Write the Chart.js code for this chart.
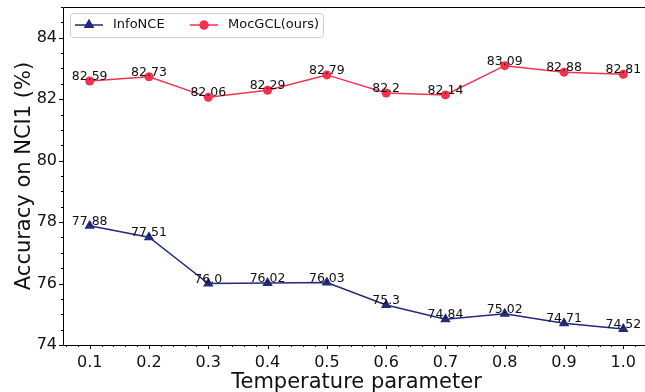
<!DOCTYPE html>
<html lang="en">
<head>
  <meta charset="UTF-8">
  <title>Accuracy vs temperature</title>
  <script src="https://cdn.jsdelivr.net/npm/chart.js"></script>
  <style>
    html, body { margin: 0; padding: 0; background: #fff; overflow: hidden; }
    canvas { display: block; }
  </style>
</head>
<body>
  <canvas id="chart" width="656" height="392"></canvas>

  <script>
    const temps = [0.1, 0.2, 0.3, 0.4, 0.5, 0.6, 0.7, 0.8, 0.9, 1.0];
    const infoNCE = [77.88, 77.51, 76.0, 76.02, 76.03, 75.3, 74.84, 75.02, 74.71, 74.52];
    const mocGCL = [82.59, 82.73, 82.06, 82.29, 82.79, 82.2, 82.14, 83.09, 82.88, 82.81];
    const infoLabels = ['77.88', '77.51', '76.0', '76.02', '76.03', '75.3', '74.84', '75.02', '74.71', '74.52'];
    const mocLabels = ['82.59', '82.73', '82.06', '82.29', '82.79', '82.2', '82.14', '83.09', '82.88', '82.81'];
    const yTicks = [74, 76, 78, 80, 82, 84];

    const BLUE = '#222a7a';
    const RED = '#f5314f';
    const FONT = "'DejaVu Sans', sans-serif";

    const near = (v, step) => Math.abs(v / step - Math.round(v / step)) < 1e-6;

    // matplotlib-ish axes: spines, major/minor ticks, value labels, legend
    const decor = {
      id: 'decor',
      afterDraw(chart) {
        const ctx = chart.ctx;
        const a = chart.chartArea;
        const xs = chart.scales.x, ys = chart.scales.y;
        ctx.save();
        ctx.strokeStyle = '#000';
        ctx.lineWidth = 1;
        ctx.beginPath();
        ctx.rect(a.left + 0.5, a.top + 0.5, a.right - a.left, a.bottom - a.top);
        ctx.stroke();

        ctx.beginPath();
        for (let v = 0.06; v <= xs.max + 1e-9; v += 0.02) {
          const px = Math.round(xs.getPixelForValue(v)) + 0.5;
          const len = near(v, 0.1) ? 4 : 2;
          ctx.moveTo(px, a.bottom);
          ctx.lineTo(px, a.bottom + len);
        }
        for (let v = 74; v <= ys.max + 1e-9; v += 0.5) {
          const py = Math.round(ys.getPixelForValue(v)) + 0.5;
          const len = near(v, 2) ? 4 : 2;
          ctx.moveTo(a.left, py);
          ctx.lineTo(a.left - len, py);
        }
        ctx.stroke();

        // value labels
        ctx.font = '12.5px ' + FONT;
        ctx.fillStyle = '#111';
        ctx.textAlign = 'center';
        ctx.textBaseline = 'alphabetic';
        [[0, infoLabels], [1, mocLabels]].forEach(([i, labels]) => {
          chart.getDatasetMeta(i).data.forEach((pt, k) => {
            ctx.fillText(labels[k], pt.x, pt.y - 1);
          });
        });

        // legend
        const lx = 70, ly = 13, lw = 253, lh = 24;
        ctx.fillStyle = 'rgba(255,255,255,0.8)';
        ctx.strokeStyle = '#cccccc';
        ctx.beginPath();
        ctx.roundRect(lx + 0.5, ly + 0.5, lw, lh, 3);
        ctx.fill();
        ctx.stroke();
        const items = [
          { x: 75, color: BLUE, style: 'triangle', r: 6, text: 'InfoNCE' },
          { x: 190, color: RED, style: 'circle', r: 4.5, text: 'MocGCL(ours)' }
        ];
        const cy = ly + lh / 2;
        ctx.font = '13px ' + FONT;
        ctx.textAlign = 'left';
        ctx.textBaseline = 'middle';
        items.forEach(it => {
          ctx.strokeStyle = it.color;
          ctx.lineWidth = 1.5;
          ctx.beginPath();
          ctx.moveTo(it.x, cy);
          ctx.lineTo(it.x + 28, cy);
          ctx.stroke();
          ctx.fillStyle = it.color;
          Chart.helpers.drawPoint(ctx, { pointStyle: it.style, radius: it.r, borderWidth: 0, rotation: 0 }, it.x + 14, cy);
          ctx.fill();
          ctx.fillStyle = '#111';
          ctx.fillText(it.text, it.x + 38, cy);
        });
        ctx.restore();
      }
    };

    new Chart(document.getElementById('chart'), {
      type: 'line',
      data: {
        datasets: [
          {
            label: 'InfoNCE',
            data: temps.map((t, i) => ({ x: t, y: infoNCE[i] })),
            borderColor: BLUE,
            backgroundColor: BLUE,
            borderWidth: 1.5,
            pointStyle: 'triangle',
            pointRadius: 6,
            pointBorderWidth: 0,
            tension: 0
          },
          {
            label: 'MocGCL(ours)',
            data: temps.map((t, i) => ({ x: t, y: mocGCL[i] })),
            borderColor: RED,
            backgroundColor: RED,
            borderWidth: 1.5,
            pointStyle: 'circle',
            pointRadius: 4.5,
            pointBorderWidth: 0,
            tension: 0
          }
        ]
      },
      options: {
        responsive: false,
        animation: false,
        layout: { padding: { top: 7, right: 3, left: 0, bottom: 0 } },
        plugins: { legend: { display: false }, tooltip: { enabled: false } },
        scales: {
          x: {
            type: 'linear',
            min: 0.055,
            max: 1.045,
            grid: { display: false, drawTicks: false },
            border: { display: false },
            afterBuildTicks: s => { s.ticks = temps.map(v => ({ value: v })); },
            afterFit: s => { s.height = 47; s.paddingLeft = 0; s.paddingRight = 0; },
            ticks: {
              padding: 8,
              color: '#111',
              font: { family: FONT, size: 16 },
              maxRotation: 0,
              autoSkip: false,
              callback: v => v.toFixed(1)
            },
            title: {
              display: true,
              text: 'Temperature parameter',
              color: '#111',
              font: { family: FONT, size: 21, lineHeight: 1.2 },
              padding: { top: 0, bottom: -3 }
            }
          },
          y: {
            min: 74,
            max: 85,
            grid: { display: false, drawTicks: false },
            border: { display: false },
            afterBuildTicks: s => { s.ticks = yTicks.map(v => ({ value: v })); },
            afterFit: s => { s.width = 63; s.paddingTop = 0; s.paddingBottom = 0; },
            ticks: {
              padding: 6,
              color: '#111',
              font: { family: FONT, size: 16 },
              callback: v => String(v)
            },
            title: {
              display: true,
              text: 'Accuracy on NCI1 (%)',
              color: '#111',
              font: { family: FONT, size: 21, lineHeight: 1.2 },
              padding: { top: 12, bottom: 0 }
            }
          }
        }
      },
      plugins: [decor]
    });
  </script>
</body>
</html>
